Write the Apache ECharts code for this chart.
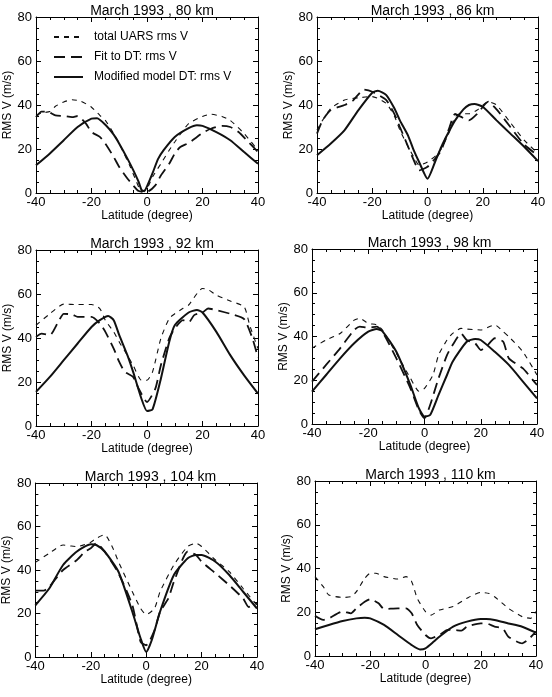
<!DOCTYPE html>
<html>
<head>
<meta charset="utf-8">
<script src="https://cdn.jsdelivr.net/npm/echarts@6/dist/echarts.min.js"></script>
<style>
  html, body { margin: 0; padding: 0; background: #fff; }
  #main { width: 552px; height: 697px; }
</style>
</head>
<body>
<div id="main"></div>
<script>
// series names (legend)
var names = ['total UARS rms V', 'Fit to DT: rms V', 'Modified model DT: rms V'];
var heights = [80, 86, 92, 98, 104, 110];

// 80 km
var latU80 = [-40,-38,-35,-33,-30,-27,-24,-20,-17,-15,-12,-10,-6,-3,-2,0,2,5,8,10,15,20,23,27,30,35,40];
var uars80 = [35.3,36.4,37,39.4,41.4,42.4,41.8,39,35.3,33,27,22.4,11.8,2.7,0.5,2,7.3,13.3,19.4,23.2,31.5,34.8,35.8,34.8,33,27,19.4];
var latF80 = [-40,-38,-36,-33,-30,-27,-25,-22,-20,-17,-15,-12,-10,-7,-5,-3,0,3,5,8,10,12,15,18,20,23,27,30,33,36,40];
var fit80 = [34.5,37,37,35.3,35,34.5,35,31.5,27.7,25.5,22.4,16.4,11.8,6.5,3.5,0.9,0.5,3.5,8,13.3,17.9,20.9,22.7,25.5,27.3,29.2,30.5,30,27.7,23.9,18.6];
var latM80 = [-40,-35,-30,-25,-20,-18,-15,-12,-10,-7,-5,-3,-2,-1,0,2,4,6,10,15,18,20,25,30,35,40];
var model80 = [12.6,18,24,30,33.8,34,31,26.5,22.4,15.5,10.5,5,1.5,0.8,3,9,15.5,19.5,25.5,29.5,30.8,30.5,27.7,24,18.6,13.3];

// 86 km
var latU86 = [-40,-38,-35,-30,-25,-20,-15,-12,-10,-7,-5,-3,0,3,5,8,10,12,15,18,22,25,30,35,40];
var uars86 = [28.6,33,38.5,42.3,43.3,43.8,40.8,35,28.6,21,16.4,12.6,14.1,17,20,28,34.7,36,36,37.7,41.5,40,32,24,18];
var latF86 = [-40,-38,-35,-30,-27,-23,-20,-15,-12,-10,-7,-5,-3,0,3,5,8,10,12,15,18,22,25,30,35,40];
var fit86 = [27,33,37.7,40,42,47,46,42.3,36,30,21,15,10.3,11.9,16,19.5,30,36,34.7,33,36,41.5,38,30,22,17];
var latM86 = [-40,-35,-30,-25,-20,-18,-15,-12,-10,-7,-5,-3,0,3,5,8,10,13,15,17,20,25,30,35,40];
var model86 = [17.2,22.5,28.6,37.7,45.6,46.5,44.6,38.5,33,26,19.5,14,6.5,15,21,28.5,33,38,40,40.5,39.2,33,27,21,14.5];

// 92 km
var latU92 = [-40,-35,-30,-25,-20,-17,-15,-12,-10,-7,-5,-2,0,2,5,8,10,13,15,20,22,25,30,35,37,40];
var uars92 = [45.8,51,55.4,55.2,55.2,53.4,48,42.8,38.2,32,27.6,20.8,20.8,24.6,39.8,48.9,51,53.5,55,62.5,62,59.5,56.8,54.2,45.8,35.2];
var latF92 = [-40,-38,-35,-32,-30,-27,-25,-20,-17,-15,-12,-10,-8,-5,-3,0,3,5,8,10,13,15,17,20,22,25,30,35,38,40];
var fit92 = [40.5,42,41.3,47.3,51,50.7,49.6,49.6,46.6,42.8,35.2,29.1,24.6,22.3,17,10.9,17,27.6,39.8,44.3,48.1,47,50.4,51.6,53.4,52.7,51,48.6,39.8,31];
var latM92 = [-40,-35,-30,-25,-20,-17,-14,-12,-10,-7,-5,-2,0,2,5,8,10,15,18,20,25,30,35,40];
var model92 = [15.5,22.3,29.9,37.5,45,48.1,50,48.1,41.3,32,24.6,12.4,6.8,7.6,21.5,38.2,45.8,51.6,52.7,51.6,42.8,32.2,23,14.7];

// 98 km
var latU98 = [-40,-35,-30,-25,-23,-20,-17,-15,-10,-5,-2,0,3,5,8,10,13,15,20,25,28,30,35,40];
var uars98 = [34.6,38.4,41.4,47.5,48.3,46,45.3,43,32.3,20.9,15,16.3,22.4,31.5,38.4,41.4,43.7,43.4,43,45.3,42.2,39.9,33,22.4];
var latF98 = [-40,-35,-30,-25,-23,-20,-17,-15,-10,-5,-2,0,2,5,8,10,13,15,18,20,22,25,28,30,35,40];
var fit98 = [19.4,27,34.6,43,44.5,44,44.5,42.2,30,16.3,6.4,2.6,8.7,20.9,31.5,36.1,41.4,38.4,36.9,33.8,35.4,39.2,37.6,30,25.4,17.8];
var latM98 = [-40,-35,-30,-25,-20,-17,-15,-10,-5,-2,0,2,5,8,10,15,18,20,25,30,35,40];
var model98 = [14.8,22.4,30,36.9,42.2,43.4,42.5,33,17.8,7.2,3.4,4.1,13.3,22.4,28.5,37.6,38.9,38.4,33,27,19.4,11.7];

// 104 km
var latU104 = [-40,-35,-30,-27,-25,-20,-18,-15,-12,-10,-5,-2,0,3,5,10,15,18,20,25,30,35,40];
var uars104 = [43.5,47.7,51.5,51,50.8,52.8,54.6,56.2,50,43.8,30,22.3,19.5,22.3,30,42.3,50.8,52.3,50.8,44.6,39.2,31.5,23.8];
var latF104 = [-40,-37,-35,-30,-25,-22,-20,-18,-15,-10,-5,-2,0,3,5,8,10,15,18,20,25,30,35,37,40];
var fit104 = [30.5,30.5,32.3,40,44.6,48.5,50,52.3,48.5,38.5,23.8,6.9,5.4,12.3,20.8,26.9,34.6,48.5,46.9,43.8,38.5,33,26.9,23,24.6];
var latM104 = [-40,-35,-30,-25,-20,-18,-15,-10,-5,-2,0,2,5,10,15,18,20,25,30,35,40];
var model104 = [23.8,31.5,42.3,48.5,51.8,51.5,48.5,39.2,20.8,8.5,2.3,7.7,20.8,37.7,45.4,46.9,46.9,43.8,37.7,30,22.3];

// 110 km
var latU110 = [-40,-37,-35,-30,-27,-25,-22,-20,-18,-15,-10,-7,-5,-3,0,2,5,10,15,20,23,25,30,35,38,40];
var uars110 = [36.3,31.7,27.9,26.8,27.1,29.4,35.5,37.8,37.8,36.3,35.2,36.3,34,26.4,20.3,18.7,21,22.6,26.4,29.1,28.6,27.1,21.8,18,17.2,20.3];
var latF110 = [-40,-37,-35,-30,-27,-25,-22,-20,-17,-15,-10,-7,-5,-3,0,2,5,8,10,13,15,20,22,25,28,30,35,37,40];
var fit110 = [18.4,16.5,17.2,20.3,19.5,21.8,24.8,26,24.1,21.5,21.8,21.8,19.5,14.2,9.6,8.1,9.6,11.9,11.9,11.6,13.4,14.9,14.9,13.4,12.6,8.8,5.8,7.3,11.1];
var latM110 = [-40,-35,-30,-25,-22,-20,-15,-10,-5,-2,0,3,5,10,15,20,22,25,30,35,40];
var model110 = [12.2,14.2,16,17.2,17.5,17.2,14.2,9.6,5,3,3.5,6.6,8.8,13.4,15.7,16.9,16.9,16.5,14.9,13.4,10.7];

var latTicks = [-40, 40, 20];   // min, max, interval
var rmsTicks = [0, 80, 20];

var curves = [
	[[latU80, uars80], [latF80, fit80], [latM80, model80]],
	[[latU86, uars86], [latF86, fit86], [latM86, model86]],
	[[latU92, uars92], [latF92, fit92], [latM92, model92]],
	[[latU98, uars98], [latF98, fit98], [latM98, model98]],
	[[latU104, uars104], [latF104, fit104], [latM104, model104]],
	[[latU110, uars110], [latF110, fit110], [latM110, model110]]
];

// plot boxes
var boxes = [
	{ left: 36, top: 17, width: 222, height: 176 },
	{ left: 317, top: 17, width: 221, height: 176 },
	{ left: 36, top: 250, width: 222, height: 176 },
	{ left: 312, top: 249, width: 225, height: 175 },
	{ left: 34, top: 483, width: 223, height: 174 },
	{ left: 315, top: 481, width: 221, height: 175 }
];

var lineStyles = [
	{ color: '#111', width: 1.1, type: [5, 5] },
	{ color: '#111', width: 1.8, type: [11, 6] },
	{ color: '#111', width: 2, type: 'solid' }
];

var font = 'Liberation Sans, Arial, sans-serif';

function zip(xs, ys) {
	var out = [];
	for (var i = 0; i < xs.length; i++) {
		out.push([xs[i], ys[i]]);
	}
	return out;
}

function makeAxis(dim, gi, pos, labelled) {
	var t = dim == 'x' ? latTicks : rmsTicks;
	var ax = {
		type: 'value',
		gridIndex: gi,
		position: pos,
		min: t[0],
		max: t[1],
		interval: t[2],
		axisLine: { show: true, onZero: false, lineStyle: { color: '#000', width: 1 } },
		axisTick: { show: true, inside: true, length: 5, lineStyle: { color: '#000' } },
		minorTick: { show: true, splitNumber: 4, length: 3, lineStyle: { color: '#000' } },
		splitLine: { show: false },
		minorSplitLine: { show: false },
		axisLabel: { show: labelled, color: '#000', fontSize: 13, fontFamily: font, margin: dim == 'x' ? 3 : 4 }
	};
	if (labelled) {
		ax.nameLocation = 'middle';
		ax.nameTextStyle = { color: '#000', fontSize: 12, fontFamily: font };
		if (dim == 'x') {
			ax.name = 'Latitude (degree)';
			ax.nameGap = 16;
		} else {
			ax.name = 'RMS V (m/s)';
			ax.nameGap = 22;
		}
	}
	return ax;
}

var grids = [], xAxes = [], yAxes = [], series = [], titles = [];
for (var p = 0; p < boxes.length; p++) {
	var b = boxes[p];
	grids.push({ left: b.left, top: b.top, width: b.width, height: b.height, containLabel: false });
	xAxes.push(makeAxis('x', p, 'bottom', true));
	xAxes.push(makeAxis('x', p, 'top', false));
	yAxes.push(makeAxis('y', p, 'left', true));
	yAxes.push(makeAxis('y', p, 'right', false));
	titles.push({
		text: 'March 1993 , ' + heights[p] + ' km',
		left: b.left + b.width / 2,
		top: b.top - 18,
		textAlign: 'center',
		textStyle: { color: '#000', fontSize: 14, fontWeight: 'normal', fontFamily: font }
	});
	for (var s = 0; s < 3; s++) {
		series.push({
			name: names[s],
			type: 'line',
			xAxisIndex: 2 * p,
			yAxisIndex: 2 * p,
			data: zip(curves[p][s][0], curves[p][s][1]),
			symbol: 'none',
			showSymbol: false,
			smooth: 0.2,
			lineStyle: lineStyles[s],
			z: 3 - s
		});
	}
}

var myChart = echarts.init(document.getElementById('main'), null, { renderer: 'canvas' });
var option = {
	backgroundColor: '#fff',
	animation: false,
	title: titles,
	legend: {
		data: names,
		orient: 'vertical',
		left: 48,
		top: 26,
		itemWidth: 29,
		itemHeight: 14,
		itemGap: 8,
		selectedMode: false,
		itemStyle: { opacity: 0 },
		textStyle: { color: '#000', fontSize: 12, fontFamily: font, padding: [0, 0, 0, 6] }
	},
	grid: grids,
	xAxis: xAxes,
	yAxis: yAxes,
	series: series
};
myChart.setOption(option);
</script>
</body>
</html>
